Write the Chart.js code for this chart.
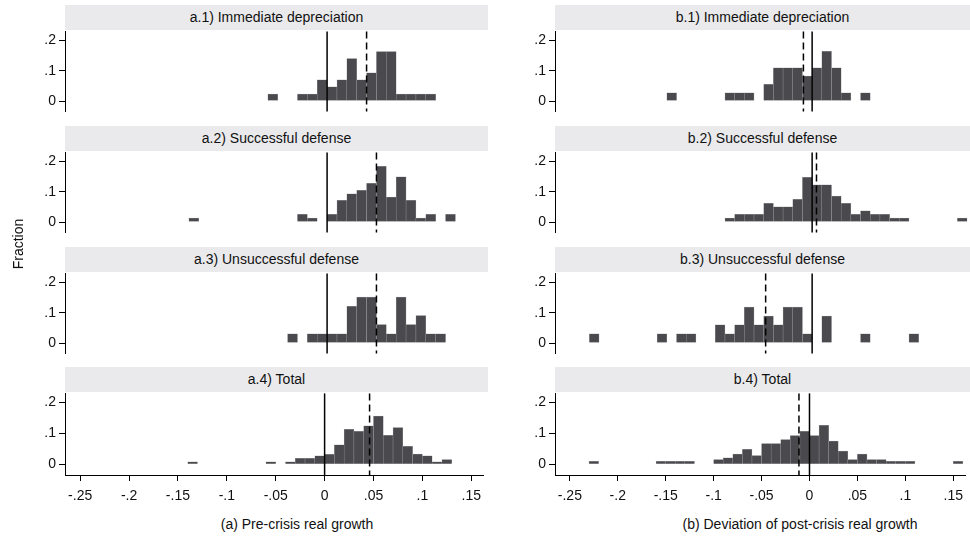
<!DOCTYPE html>
<html>
<head>
<meta charset="utf-8">
<script src="https://cdn.jsdelivr.net/npm/chart.js@4/dist/chart.umd.min.js"></script>
<style>
  body { margin: 0; background: #fff; width: 970px; height: 545px; position: relative; overflow: hidden;
         font-family: "Liberation Sans", Arial, sans-serif; color: #111; }
  .strip { position: absolute; height: 25px; line-height: 25px; background: #eaeaec; text-align: center; font-size: 14px; }
  .box { position: absolute; }
  .xtitle { position: absolute; font-size: 14px; text-align: center; white-space: nowrap; width: 400px; }
  .ytitle { position: absolute; font-size: 14px; transform: rotate(-90deg); transform-origin: center; white-space: nowrap; }
</style>
</head>
<body>
<script>
// histogram bins (left edges, width .01) and fractions
var a1_bins = [-0.06, -0.03, -0.02, -0.01, 0.00, 0.01, 0.02, 0.03, 0.04, 0.05, 0.06, 0.07, 0.08, 0.09, 0.10];
var a1_frac = [0.023, 0.023, 0.023, 0.070, 0.047, 0.070, 0.140, 0.070, 0.093, 0.163, 0.163, 0.023, 0.023, 0.023, 0.023];

var a2_bins = [-0.14, -0.03, -0.02, 0.00, 0.01, 0.02, 0.03, 0.04, 0.05, 0.06, 0.07, 0.08, 0.09, 0.10, 0.12];
var a2_frac = [0.013, 0.025, 0.013, 0.025, 0.072, 0.093, 0.105, 0.128, 0.184, 0.082, 0.149, 0.072, 0.013, 0.025, 0.025];

var a3_bins = [-0.04, -0.02, -0.01, 0.00, 0.01, 0.02, 0.03, 0.04, 0.05, 0.06, 0.07, 0.08, 0.09, 0.10, 0.11];
var a3_frac = [0.030, 0.030, 0.030, 0.030, 0.030, 0.121, 0.152, 0.152, 0.061, 0.030, 0.152, 0.061, 0.091, 0.030, 0.030];

var a4_bins = [-0.14, -0.06, -0.04, -0.03, -0.02, -0.01, 0.00, 0.01, 0.02, 0.03, 0.04, 0.05, 0.06, 0.07, 0.08, 0.09, 0.10, 0.11, 0.12];
var a4_frac = [0.008, 0.008, 0.008, 0.019, 0.019, 0.027, 0.032, 0.063, 0.113, 0.107, 0.125, 0.156, 0.094, 0.119, 0.058, 0.033, 0.027, 0.008, 0.015];

var b1_bins = [-0.15, -0.09, -0.08, -0.07, -0.05, -0.04, -0.03, -0.02, -0.01, 0.00, 0.01, 0.02, 0.03, 0.05];
var b1_frac = [0.027, 0.027, 0.027, 0.027, 0.055, 0.110, 0.110, 0.110, 0.082, 0.110, 0.164, 0.110, 0.027, 0.027];

var b2_bins = [-0.09, -0.08, -0.07, -0.06, -0.05, -0.04, -0.03, -0.02, -0.01, 0.00, 0.01, 0.02, 0.03, 0.04, 0.05, 0.06, 0.07, 0.08, 0.09, 0.15];
var b2_frac = [0.013, 0.025, 0.025, 0.025, 0.062, 0.050, 0.050, 0.075, 0.148, 0.123, 0.123, 0.086, 0.062, 0.025, 0.037, 0.025, 0.025, 0.013, 0.013, 0.013];

var b3_bins = [-0.23, -0.16, -0.14, -0.13, -0.10, -0.09, -0.08, -0.07, -0.06, -0.05, -0.04, -0.03, -0.02, -0.01, 0.01, 0.05, 0.10];
var b3_frac = [0.030, 0.030, 0.030, 0.030, 0.060, 0.030, 0.060, 0.119, 0.060, 0.089, 0.060, 0.119, 0.119, 0.030, 0.089, 0.030, 0.030];

var b4_bins = [-0.23, -0.16, -0.15, -0.14, -0.13, -0.10, -0.09, -0.08, -0.07, -0.06, -0.05, -0.04, -0.03, -0.02, -0.01, 0.00, 0.01, 0.02, 0.03, 0.04, 0.05, 0.06, 0.07, 0.08, 0.09, 0.10, 0.15];
var b4_frac = [0.009, 0.009, 0.009, 0.009, 0.009, 0.015, 0.021, 0.033, 0.048, 0.028, 0.067, 0.067, 0.080, 0.093, 0.107, 0.093, 0.126, 0.075, 0.043, 0.015, 0.033, 0.015, 0.015, 0.009, 0.009, 0.009, 0.009];

// dashed lines = group means
var a_means = [0.040, 0.050, 0.050, 0.046];
var b_means = [-0.009, 0.0045, -0.048, -0.011];

var a_titles = ["a.1) Immediate depreciation", "a.2) Successful defense", "a.3) Unsuccessful defense", "a.4) Total"];
var b_titles = ["b.1) Immediate depreciation", "b.2) Successful defense", "b.3) Unsuccessful defense", "b.4) Total"];

var x_ticks = [-0.25, -0.2, -0.15, -0.1, -0.05, 0, 0.05, 0.1, 0.15];
var y_ticks = [0, 0.1, 0.2];
var bin_width = 0.01;

var cols = [
	{ bins: [a1_bins, a2_bins, a3_bins, a4_bins], frac: [a1_frac, a2_frac, a3_frac, a4_frac], means: a_means, titles: a_titles,
	  left: 65, right: 488, xtitle: "(a) Pre-crisis real growth", tcenter: 297 },
	{ bins: [b1_bins, b2_bins, b3_bins, b4_bins], frac: [b1_frac, b2_frac, b3_frac, b4_frac], means: b_means, titles: b_titles,
	  left: 555, right: 970, xtitle: "(b) Deviation of post-crisis real growth", tcenter: 800 }
];
var strip_tops = [5, 126, 247, 367];
var plot_h = 83;
var FONT = "'Liberation Sans', Arial, sans-serif";

function stataNum(v) {
	if (Math.abs(v) < 1e-9) return "0";
	return String(+v.toFixed(2)).replace(/^(-?)0\./, "$1.");
}

var refLines = {
	id: "refLines",
	afterDatasetsDraw: function (chart, args, opts) {
		var ctx = chart.ctx, a = chart.chartArea, xs = chart.scales.x;
		ctx.save();
		ctx.strokeStyle = "#000";
		ctx.lineWidth = 1.5;
		var x0 = xs.getPixelForValue(0);
		ctx.beginPath(); ctx.moveTo(x0, a.top); ctx.lineTo(x0, a.bottom); ctx.stroke();
		ctx.setLineDash([7, 4]);
		var xm = xs.getPixelForValue(opts.mean);
		ctx.beginPath(); ctx.moveTo(xm, a.top); ctx.lineTo(xm, a.bottom); ctx.stroke();
		ctx.restore();
	}
};

function addDiv(cls, text, css) {
	var d = document.createElement("div");
	d.className = cls;
	d.textContent = text;
	for (var k in css) d.style[k] = css[k];
	document.body.appendChild(d);
	return d;
}

cols.forEach(function (col) {
	var w = col.right - col.left;
	for (var r = 0; r < 4; r++) {
		var bottomRow = (r === 3);
		var plotTop = strip_tops[r] + 25;
		addDiv("strip", col.titles[r], { left: col.left + "px", top: strip_tops[r] + "px", width: w + "px" });

		var xh = bottomRow ? 32 : 0;
		var padB = bottomRow ? 0 : 10;
		var cw = 50 + w, ch = 10 + plot_h + xh + padB;
		var box = addDiv("box", "", { left: (col.left - 50) + "px", top: (plotTop - 10) + "px", width: cw + "px", height: ch + "px" });
		var cv = document.createElement("canvas");
		cv.width = cw; cv.height = ch;
		box.appendChild(cv);

		var pts = col.bins[r].map(function (b, i) { return { x: b + bin_width / 2, y: col.frac[r][i] }; });

		new Chart(cv.getContext("2d"), {
			type: "bar",
			data: { datasets: [{ data: pts, backgroundColor: "#4a4a4e", borderColor: "#9a9a9e", borderWidth: 0.5,
				barPercentage: 1, categoryPercentage: 1 }] },
			options: {
				responsive: false, animation: false, events: [],
				layout: { padding: { left: 0, right: 0, top: 10, bottom: padB } },
				plugins: { legend: { display: false }, tooltip: { enabled: false }, refLines: { mean: col.means[r] } },
				scales: {
					x: {
						type: "linear", min: -0.2655, max: 0.163, offset: false, display: bottomRow,
						afterBuildTicks: function (s) { s.ticks = x_ticks.map(function (v) { return { value: v }; }); },
						afterFit: bottomRow ? function (s) { s.height = 32; } : undefined,
						grid: { offset: false, drawOnChartArea: false, drawTicks: true, tickLength: 6, color: "#000" },
						border: { display: true, color: "#000", width: 1 },
						ticks: { callback: stataNum, maxRotation: 0, autoSkip: false, padding: 7, color: "#111", font: { family: FONT, size: 14 } }
					},
					y: {
						min: -0.035, max: 0.23,
						afterBuildTicks: function (s) { s.ticks = y_ticks.map(function (v) { return { value: v }; }); },
						afterFit: function (s) { s.width = 50; },
						grid: { drawOnChartArea: false, drawTicks: true, tickLength: 6, color: "#000" },
						border: { display: true, color: "#000", width: 1 },
						ticks: { callback: stataNum, padding: 3, color: "#111", font: { family: FONT, size: 14 } }
					}
				}
			},
			plugins: [refLines]
		});
	}
	addDiv("xtitle", col.xtitle, { left: (col.tcenter - 200) + "px", top: "516px" });
});

addDiv("ytitle", "Fraction", { left: "-12px", top: "236px", width: "60px", textAlign: "center" });
</script>
</body>
</html>
